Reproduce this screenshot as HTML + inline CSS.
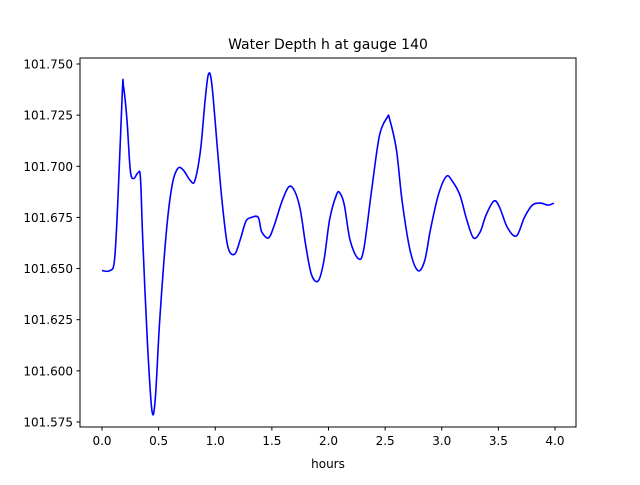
<!DOCTYPE html>
<html><head><meta charset="utf-8"><style>
body{margin:0;background:#fff}
text{font-family:"DejaVu Sans","Liberation Sans",sans-serif}
</style></head><body>
<svg id="chart" width="640" height="480" viewBox="0 0 640 480">
<rect x="0" y="0" width="640" height="480" fill="#fff"/>
<text x="328" y="49" text-anchor="middle" font-size="14">Water Depth h at gauge 140</text>
<g id="plot"></g>
<rect x="80" y="58" width="496" height="369" fill="none" stroke="#000" stroke-width="1"/>
<text x="328" y="468" text-anchor="middle" font-size="12">hours</text>
</svg>
<script>
const hours=[0.00,0.07,0.11,0.14,0.18,0.19,0.22,0.25,0.28,0.32,0.34,0.36,0.40,0.44,0.47,0.51,0.57,0.62,0.67,0.72,0.78,0.82,0.87,0.91,0.94,0.97,1.02,1.06,1.11,1.17,1.22,1.27,1.32,1.38,1.41,1.47,1.52,1.59,1.65,1.70,1.75,1.80,1.85,1.91,1.96,2.01,2.07,2.10,2.14,2.19,2.26,2.31,2.38,2.45,2.52,2.54,2.60,2.65,2.72,2.79,2.85,2.90,2.97,3.04,3.09,3.16,3.22,3.28,3.34,3.39,3.46,3.51,3.58,3.66,3.73,3.80,3.87,3.94,3.99];
const depth=[101.649,101.649,101.654,101.683,101.737,101.739,101.723,101.698,101.694,101.697,101.694,101.664,101.615,101.581,101.586,101.625,101.669,101.691,101.699,101.698,101.693,101.693,101.708,101.732,101.745,101.740,101.708,101.683,101.661,101.657,101.664,101.673,101.675,101.675,101.668,101.665,101.671,101.683,101.690,101.688,101.679,101.661,101.647,101.644,101.654,101.674,101.686,101.687,101.681,101.664,101.655,101.659,101.688,101.715,101.724,101.723,101.708,101.683,101.659,101.649,101.654,101.669,101.686,101.695,101.693,101.686,101.674,101.665,101.668,101.676,101.683,101.680,101.670,101.666,101.675,101.681,101.682,101.681,101.682];
const xTicks=[0,0.5,1,1.5,2,2.5,3,3.5,4];
const xTickLabels=["0.0","0.5","1.0","1.5","2.0","2.5","3.0","3.5","4.0"];
const yTicks=[101.575,101.600,101.625,101.650,101.675,101.700,101.725,101.750];
const yTickLabels=["101.575","101.600","101.625","101.650","101.675","101.700","101.725","101.750"];

const xs=h=>102+h*113.25;
const ys=v=>64+(101.75-v)/0.025*51.14;
const NS="http://www.w3.org/2000/svg";
const g=document.getElementById('plot');
function mk(t,a){const e=document.createElementNS(NS,t);for(const k in a)e.setAttribute(k,a[k]);g.appendChild(e);return e;}
xTicks.forEach((t,i)=>{
  const l=mk('line',{x1:xs(t),x2:xs(t),y1:427,y2:430.5,stroke:'#000'});
  
  
  const tx=mk('text',{x:xs(t),y:445,'text-anchor':'middle','font-size':'12'});
  tx.textContent=xTickLabels[i];
  
  
});
yTicks.forEach((t,i)=>{
  const l=mk('line',{x1:76.5,x2:80,y1:ys(t),y2:ys(t),stroke:'#000'});
  
  
  const tx=mk('text',{x:73,y:ys(t)+4.5,'text-anchor':'end','font-size':'12'});
  tx.textContent=yTickLabels[i];
  
  
});
const P=hours.map((h,i)=>[xs(h),ys(depth[i])]);
let d='M'+P[0][0]+','+P[0][1];
for(let i=0;i<P.length-1;i++){
  const p0=P[Math.max(0,i-1)],p1=P[i],p2=P[i+1],p3=P[Math.min(P.length-1,i+2)];
  const c1=[p1[0]+(p2[0]-p0[0])/6,p1[1]+(p2[1]-p0[1])/6];
  const c2=[p2[0]-(p3[0]-p1[0])/6,p2[1]-(p3[1]-p1[1])/6];
  d+=' C'+c1+' '+c2+' '+p2;
}
const line=mk('path',{d:d,fill:'none',stroke:'#0000ff','stroke-width':'1.6'});


</script>
</body></html>
